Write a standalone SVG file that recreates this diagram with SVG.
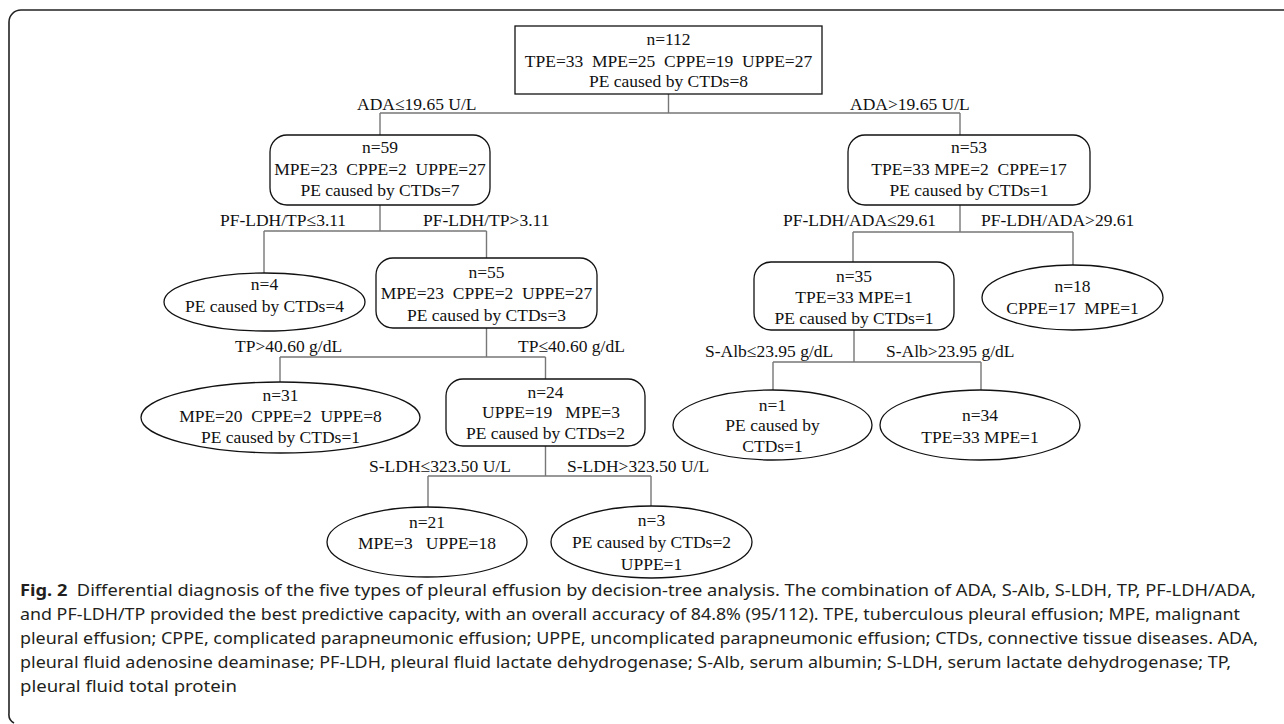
<svg xmlns="http://www.w3.org/2000/svg" width="1284" height="724" viewBox="0 0 1284 724" xml:space="preserve">
<style>
.t{font-family:"Liberation Serif","Times New Roman",serif;font-size:17.5px;fill:#111;text-anchor:middle;white-space:pre}
.l{font-family:"Liberation Serif","Times New Roman",serif;font-size:17.5px;fill:#111;white-space:pre}
.box{fill:#fff;stroke:#111;stroke-width:1.3}
.c{fill:none;stroke:#777;stroke-width:1.4}
.cap{font-family:"Noto Sans","Open Sans",sans-serif;font-size:16.5px;fill:#231f20;white-space:pre}
.frame{fill:none;stroke:#222;stroke-width:1.6}
</style>
<rect width="1284" height="724" fill="#fff"/>
<path class="frame" d="M1284 10 H21 A12 12 0 0 0 9 22 V713 A10 10 0 0 0 14 723"/>
<g id="connectors">
<path class="c" d="M668.5 94 V113 M380 113 H960 M380 113 V135 M960 113 V135"/>
<path class="c" d="M380 205 V231 M264 231 H486.5 M264 231 V273 M486.5 231 V258"/>
<path class="c" d="M960 205 V232 M853 232 H1073 M853 232 V262 M1073 232 V265"/>
<path class="c" d="M486.5 328 V357 M280 357 H545.5 M280 357 V382 M545.5 357 V379"/>
<path class="c" d="M854 330 V362 M773 362 H981 M773 362 V390 M981 362 V390"/>
<path class="c" d="M545.5 446 V476 M428 476 H651 M428 476 V507 M651 476 V506"/>
</g>
<g id="labels">
<text class="l" x="357" y="110">ADA≤19.65 U/L</text>
<text class="l" x="850" y="110">ADA&gt;19.65 U/L</text>
<text class="l" x="220" y="226">PF-LDH/TP≤3.11</text>
<text class="l" x="423" y="226">PF-LDH/TP&gt;3.11</text>
<text class="l" x="783" y="226">PF-LDH/ADA≤29.61</text>
<text class="l" x="981" y="226">PF-LDH/ADA&gt;29.61</text>
<text class="l" x="235" y="352">TP&gt;40.60 g/dL</text>
<text class="l" x="518" y="352">TP≤40.60 g/dL</text>
<text class="l" x="705" y="357">S-Alb≤23.95 g/dL</text>
<text class="l" x="886" y="357">S-Alb&gt;23.95 g/dL</text>
<text class="l" x="369" y="472">S-LDH≤323.50 U/L</text>
<text class="l" x="567" y="472">S-LDH&gt;323.50 U/L</text>
</g>
<g id="n112">
<rect class="box" x="515" y="26" width="307" height="68"/>
<text class="t" x="668.5" y="45">n=112</text>
<text class="t" x="668.5" y="67">TPE=33  MPE=25  CPPE=19  UPPE=27</text>
<text class="t" x="668.5" y="87">PE caused by CTDs=8</text>
</g>
<g id="n59">
<rect class="box" x="270" y="135" width="220" height="70" rx="17"/>
<text class="t" x="380" y="153">n=59</text>
<text class="t" x="380" y="175">MPE=23  CPPE=2  UPPE=27</text>
<text class="t" x="380" y="196">PE caused by CTDs=7</text>
</g>
<g id="n53">
<rect class="box" x="848" y="135" width="242" height="70" rx="17"/>
<text class="t" x="969" y="153">n=53</text>
<text class="t" x="969" y="175">TPE=33 MPE=2  CPPE=17</text>
<text class="t" x="969" y="196">PE caused by CTDs=1</text>
</g>
<g id="n4">
<ellipse class="box" cx="264.5" cy="302" rx="100.5" ry="29"/>
<text class="t" x="264.5" y="290">n=4</text>
<text class="t" x="264.5" y="312">PE caused by CTDs=4</text>
</g>
<g id="n55">
<rect class="box" x="376" y="258" width="221" height="70" rx="17"/>
<text class="t" x="486.5" y="278">n=55</text>
<text class="t" x="486.5" y="299">MPE=23  CPPE=2  UPPE=27</text>
<text class="t" x="486.5" y="321">PE caused by CTDs=3</text>
</g>
<g id="n35">
<rect class="box" x="754" y="262" width="200" height="68" rx="17"/>
<text class="t" x="854" y="282">n=35</text>
<text class="t" x="854" y="303">TPE=33 MPE=1</text>
<text class="t" x="854" y="324">PE caused by CTDs=1</text>
</g>
<g id="n18">
<ellipse class="box" cx="1072.5" cy="297.5" rx="90.5" ry="32.5"/>
<text class="t" x="1072.5" y="292">n=18</text>
<text class="t" x="1072.5" y="314">CPPE=17  MPE=1</text>
</g>
<g id="n31">
<ellipse class="box" cx="280.5" cy="417.5" rx="139.5" ry="35.5"/>
<text class="t" x="280.5" y="401">n=31</text>
<text class="t" x="280.5" y="422">MPE=20  CPPE=2  UPPE=8</text>
<text class="t" x="280.5" y="443">PE caused by CTDs=1</text>
</g>
<g id="n24">
<rect class="box" x="446" y="379" width="199" height="67" rx="17"/>
<text class="t" x="545.5" y="398">n=24</text>
<text class="t" x="551" y="418">UPPE=19   MPE=3</text>
<text class="t" x="545.5" y="439">PE caused by CTDs=2</text>
</g>
<g id="n1">
<ellipse class="box" cx="772.5" cy="425" rx="99.5" ry="35"/>
<text class="t" x="772.5" y="411">n=1</text>
<text class="t" x="772.5" y="431">PE caused by</text>
<text class="t" x="772.5" y="452">CTDs=1</text>
</g>
<g id="n34">
<ellipse class="box" cx="980" cy="425" rx="100" ry="35"/>
<text class="t" x="980" y="421">n=34</text>
<text class="t" x="980" y="443">TPE=33 MPE=1</text>
</g>
<g id="n21">
<ellipse class="box" cx="427" cy="542" rx="100" ry="35"/>
<text class="t" x="427" y="528">n=21</text>
<text class="t" x="427" y="549">MPE=3   UPPE=18</text>
</g>
<g id="n3">
<ellipse class="box" cx="651.5" cy="542" rx="100.5" ry="36"/>
<text class="t" x="651.5" y="526">n=3</text>
<text class="t" x="651.5" y="548">PE caused by CTDs=2</text>
<text class="t" x="651.5" y="570">UPPE=1</text>
</g>
<g id="caption">
<text class="cap" x="20" y="596" textLength="1236" lengthAdjust="spacingAndGlyphs"><tspan font-weight="bold">Fig. 2</tspan>  Differential diagnosis of the five types of pleural effusion by decision-tree analysis. The combination of ADA, S-Alb, S-LDH, TP, PF-LDH/ADA,</text>
<text class="cap" x="20" y="620" textLength="1220" lengthAdjust="spacingAndGlyphs">and PF-LDH/TP provided the best predictive capacity, with an overall accuracy of 84.8% (95/112). TPE, tuberculous pleural effusion; MPE, malignant</text>
<text class="cap" x="20" y="644" textLength="1238" lengthAdjust="spacingAndGlyphs">pleural effusion; CPPE, complicated parapneumonic effusion; UPPE, uncomplicated parapneumonic effusion; CTDs, connective tissue diseases. ADA,</text>
<text class="cap" x="20" y="668" textLength="1211" lengthAdjust="spacingAndGlyphs">pleural fluid adenosine deaminase; PF-LDH, pleural fluid lactate dehydrogenase; S-Alb, serum albumin; S-LDH, serum lactate dehydrogenase; TP,</text>
<text class="cap" x="20" y="692" textLength="217" lengthAdjust="spacingAndGlyphs">pleural fluid total protein</text>
</g>
</svg>
